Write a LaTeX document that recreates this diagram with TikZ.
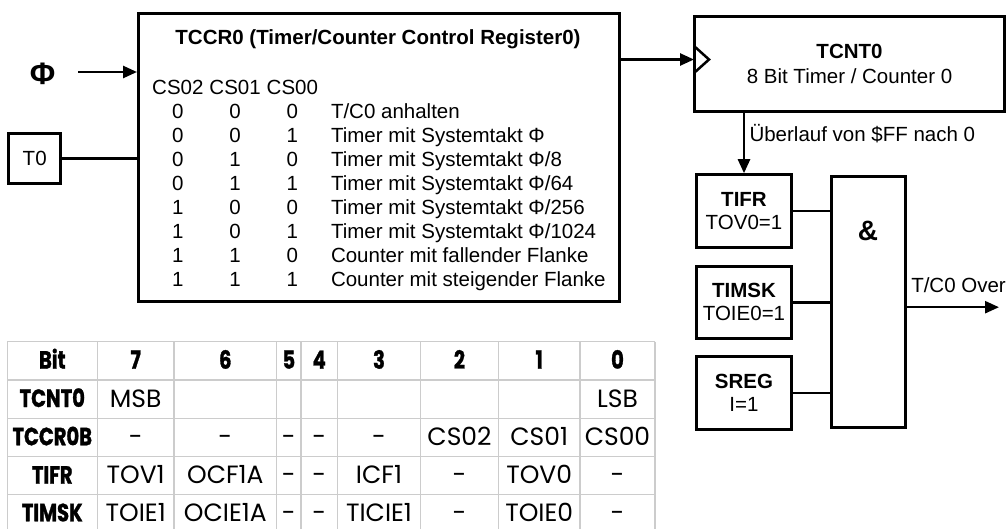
\documentclass[tikz,border=0pt]{standalone}
\usepackage{fontspec}
\setmainfont{Liberation Sans}
\newfontfamily\bitfont{Poppins}
\newfontfamily\bitheadfont[FakeStretch=0.78, BoldFeatures={FakeBold=1.2}]{Poppins}
\usetikzlibrary{arrows.meta}

\begin{document}
\begin{tikzpicture}[x=1pt, y=-1pt, font=\fontsize{20.5}{24}\selectfont,
  box/.style={draw=black, line width=3pt, inner sep=0pt, align=center, font=\fontsize{20.5}{23}\selectfont},
  wire/.style={line width=2.5pt},
  arr/.style={wire, -{Triangle[length=14pt, width=12pt]}},
  grid-line/.style={draw=black!20, line width=1.5pt},
  bit-head/.style={anchor=base, inner sep=0pt, font=\bitheadfont\bfseries\fontsize{25}{25}\selectfont},
  bit-cell/.style={anchor=base, inner sep=0pt, font=\bitfont\fontsize{25}{25}\selectfont} ]
            \useasboundingbox (0,0) rectangle (1007,529);

            % Inputs
            \node[inner sep=0pt, font=\fontsize{31}{31}\selectfont\bfseries] (phi) at (42.5,73.5) {Φ};
            \coordinate (phi-in) at (78,72);
            \node[box, minimum width=52, minimum height=50] (t0) at (34.7,158.3) {T0};

            % TCCR0
            \node[box, minimum width=481, minimum height=287.5] (tccr) at (379,157.3) {};
            \node[anchor=base] (tccr-title) at (378,45) {\textbf{TCCR0 (Timer/Counter Control Register0)}};
            \node[anchor=base west, inner sep=0pt] (cs-tab) at (152,95) {\setlength{\tabcolsep}{3pt}%
              \begin{tabular}[t]{@{}ccc@{\hspace{13pt}}l@{}}
                CS02 & CS01 & CS00 & \\
                0 & 0 & 0 & T/C0 anhalten\\
                0 & 0 & 1 & Timer mit Systemtakt Φ\\
                0 & 1 & 0 & Timer mit Systemtakt Φ/8\\
                0 & 1 & 1 & Timer mit Systemtakt Φ/64\\
                1 & 0 & 0 & Timer mit Systemtakt Φ/256\\
                1 & 0 & 1 & Timer mit Systemtakt Φ/1024\\
                1 & 1 & 0 & Counter mit fallender Flanke\\
                1 & 1 & 1 & Counter mit steigender Flanke
              \end{tabular}};

            % TCNT0
            \node[box, minimum width=310, minimum height=95, font=\fontsize{20.5}{25}\selectfont] (tcnt) at (849.5,64) {\textbf{TCNT0}\\8 Bit Timer / Counter 0};
            \coordinate (clk) at (694,59.5);
            \node[anchor=base west] (ovl-label) at (746,141.5) {Überlauf von \$FF nach 0};

            % Interrupt logic
            \node[box, minimum width=95, minimum height=72.5] (tifr) at (744,211) {\textbf{TIFR}\\TOV0=1};
            \node[box, minimum width=95, minimum height=72] (timsk) at (744,302.4) {\textbf{TIMSK}\\TOIE0=1};
            \node[box, minimum width=95, minimum height=72.6] (sreg) at (744,393) {\textbf{SREG}\\I=1};
            \node[box, minimum width=73.5, minimum height=251] (andg) at (868.3,302.2) {};
            \node[font=\fontsize{28}{28}\selectfont\bfseries] (and-label) at (868,231) {\&};
            \coordinate (ovf) at (999,307.2);
            \node[anchor=base east, inner sep=0pt] (ovf-label) at (1006,293) {T/C0 Over};

            % Edges
            \draw[arr] (phi-in) -- (phi-in -| tccr.west);
            \draw[wire] (t0.east) -- (t0.east -| tccr.west);
            \draw[arr] (clk -| tccr.east) -- (clk);
            \draw[wire] ([yshift=13.5pt]clk) -- ([xshift=15pt]clk) -- ([yshift=-13.5pt]clk);
            \draw[arr] (tifr.north |- tcnt.south) -- (tifr.north);
            \draw[wire] (tifr.east) -- (tifr.east -| andg.west);
            \draw[wire] (timsk.east) -- (timsk.east -| andg.west);
            \draw[wire] (sreg.east) -- (sreg.east -| andg.west);
            \draw[arr] (andg.east |- ovf) -- (ovf);

            % Bit table
            \foreach \xa in {7.3,97.3,174,276.7,301,337.3,420.7,498.3,580,655}
              \draw[grid-line] (\xa,341.7) -- (\xa,529);
            \foreach \ya in {341.7,380,418.3,456.7,494.3}
              \draw[grid-line] (7.3,\ya) -- (655,\ya);

            \foreach \cx/\txt [count=\i] in {52.3/Bit,135.7/7,225.3/6,288.8/5,319.2/4,379/3,459.5/2,539.2/1,617.5/0}
              \node[bit-head] (bit-\i) at (\cx,368.7) {\txt};
            \node[bit-head] (tcnt-row) at (52.3,407) {TCNT0};
            \node[bit-head] (tccr-row) at (52.3,445.3) {TCCR0B};
            \node[bit-head] (tifr-row) at (52.3,483.7) {TIFR};
            \node[bit-head] (timsk-row) at (52.3,521.3) {TIMSK};

            \node[bit-cell] (tcnt-7) at (135.7,407) {MSB};
            \node[bit-cell] (tcnt-0) at (617.5,407) {LSB};
            \foreach \cx/\txt [count=\i] in {135.7/-,225.3/-,288.8/-,319.2/-,379/-,459.5/CS02,539.2/CS01,617.5/CS00}
              \node[bit-cell] (tccr-\i) at (\cx,445.3) {\txt};
            \foreach \cx/\txt [count=\i] in {135.7/TOV1,225.3/OCF1A,288.8/-,319.2/-,379/ICF1,459.5/-,539.2/TOV0,617.5/-}
              \node[bit-cell] (tifr-\i) at (\cx,483.7) {\txt};
            \foreach \cx/\txt [count=\i] in {135.7/TOIE1,225.3/OCIE1A,288.8/-,319.2/-,379/TICIE1,459.5/-,539.2/TOIE0,617.5/-}
              \node[bit-cell] (timsk-\i) at (\cx,521.3) {\txt};
        \end{tikzpicture}
\end{document}
